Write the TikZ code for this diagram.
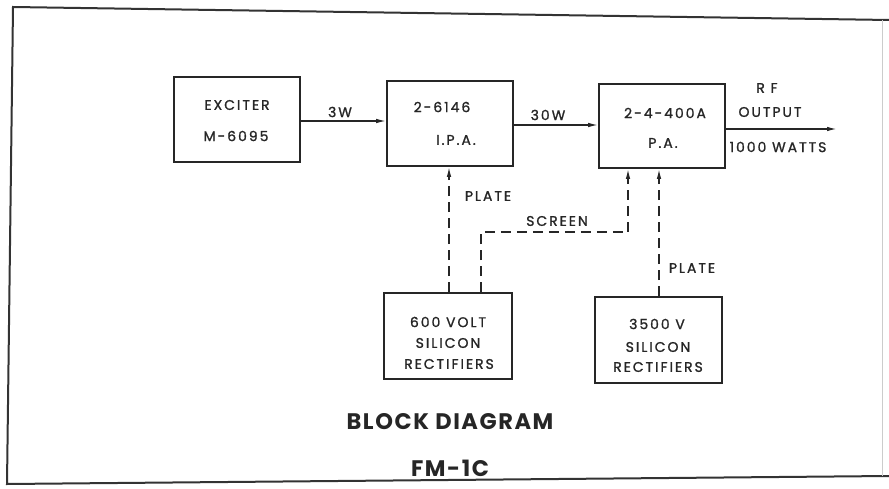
\documentclass[tikz,border=0pt]{standalone}
\usepackage{fontspec}
\setmainfont{Poppins}
\newfontfamily\lblfont[LetterSpace=14,FakeBold=1.2]{Poppins}
\newfontfamily\titlefont[LetterSpace=7]{Poppins}
\usetikzlibrary{arrows.meta}
\tikzset{
  box/.style={draw=black!85, line width=1.6pt, rectangle, inner sep=0pt},
  lbl/.style={font=\lblfont\fontsize{14}{16}\selectfont, inner sep=0pt, text=black!85},
  ttl/.style={font=\titlefont\bfseries\fontsize{22.5}{26}\selectfont, inner sep=0pt, text=black!85},
  sig/.style={draw=black!85, line width=1.4pt, -{Latex[length=10pt,width=4.5pt]}},
  dsig/.style={draw=black!85, line width=1.4pt, dash pattern=on 10pt off 6pt, -{Latex[length=10pt,width=4.5pt]}},
  dline/.style={draw=black!85, line width=1.4pt, dash pattern=on 10pt off 6pt}
}
\begin{document}
\begin{tikzpicture}[x=1pt,y=-1pt]
\useasboundingbox (0,0) rectangle (889,489);
% frame
\draw[line width=2pt, black!80] (889,20) -- (13,7) -- (7,484) -- (889,476);
\draw[line width=0.6pt, black!20] (882,20) -- (882,476);
% boxes
\node[box, minimum width=126pt, minimum height=85pt] (exc) at (237,119.5) {};
\node[box, minimum width=126pt, minimum height=85pt] (ipa) at (450,123.5) {};
\node[box, minimum width=126pt, minimum height=84pt] (pa) at (662,126) {};
\node[box, minimum width=128pt, minimum height=86pt] (r600) at (448,336) {};
\node[box, minimum width=127pt, minimum height=86pt] (r3500) at (658.5,340) {};
% box texts
\node[lbl] (t1) at (237,105) {EXCITER};
\node[lbl] (t2) at (236,136) {M-6095};
\node[lbl] (t3) at (442,107) {2-6146};
\node[lbl] (t4) at (456,140) {I.P.A.};
\node[lbl] (t5) at (665,113) {2-4-400A};
\node[lbl] (t6) at (663,143) {P.A.};
\node[lbl] (t7) at (448,322) {600 VOLT};
\node[lbl] (t8) at (448,343) {SILICON};
\node[lbl] (t9) at (449,364) {RECTIFIERS};
\node[lbl] (t10) at (657,324) {3500 V};
\node[lbl] (t11) at (658,347) {SILICON};
\node[lbl] (t12) at (658,367) {RECTIFIERS};
% signal path
\coordinate (out) at (837,129);
\draw[sig] (exc.east |- 0,121) -- (ipa.west |- 0,121);
\draw[sig] (ipa.east |- 0,125) -- (pa.west |- 0,125);
\draw[sig] (pa.east |- out) -- (out);
\node[lbl] (l3w) at (340,112) {3W};
\node[lbl] (l30w) at (548,115) {30W};
\node[lbl] (lrf) at (767,88) {R F};
\node[lbl] (lout) at (770,112) {OUTPUT};
\node[lbl] (lw) at (778,147) {1000 WATTS};
% supplies
\draw[dsig] (r600.north -| 449,0) -- (ipa.south -| 449,0);
\coordinate (s1) at (481,232);
\coordinate (s2) at (628,232);
\draw[dline] (r600.north -| s1) -- (s1) -- (s2);
\draw[dsig] (s2) -- (pa.south -| s2);
\draw[dsig] (r3500.north -| 659,0) -- (pa.south -| 659,0);
\node[lbl] (lp1) at (488,196) {PLATE};
\node[lbl] (lsc) at (557,221) {SCREEN};
\node[lbl] (lp2) at (692,268) {PLATE};
% title
\node[ttl] (ti1) at (450,422) {BLOCK DIAGRAM};
\node[ttl] (ti2) at (450,468) {FM-1C};
\end{tikzpicture}
\end{document}
